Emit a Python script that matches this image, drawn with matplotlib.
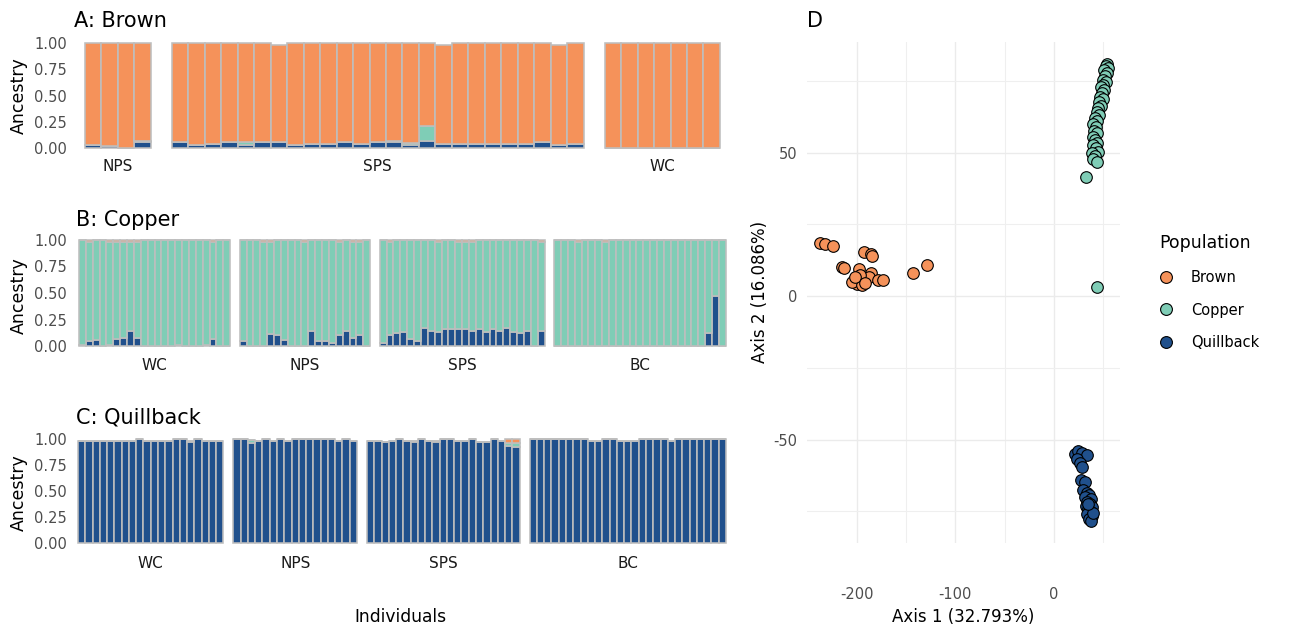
import matplotlib
matplotlib.use("Agg")
import matplotlib.pyplot as plt
from matplotlib.lines import Line2D
import numpy as np

plt.rcParams["axes.unicode_minus"] = False

# ---- admixture proportions (K = 3), one value per individual ----
# A: Brown
a_groups = ["NPS", "SPS", "WC"]
a_sizes = [4, 25, 7]
a_quill = [0.03, 0.015, 0.0, 0.055,
           0.055, 0.03, 0.04, 0.055, 0.025, 0.055, 0.055, 0.03, 0.04, 0.04,
           0.055, 0.04, 0.055, 0.055, 0.03, 0.07, 0.04, 0.04, 0.04, 0.04,
           0.04, 0.04, 0.055, 0.03, 0.04,
           0, 0, 0, 0, 0, 0, 0]
a_copper = [0, 0, 0, 0.015,
            0, 0, 0, 0, 0.03, 0, 0, 0, 0, 0, 0, 0, 0, 0.015, 0.015, 0.135,
            0, 0, 0, 0, 0, 0, 0, 0, 0,
            0, 0, 0, 0, 0, 0, 0]
a_brown = [0.97, 0.985, 1.0, 0.93,
           0.945, 0.97, 0.96, 0.945, 0.945, 0.945, 0.93, 0.97, 0.96, 0.96,
           0.945, 0.96, 0.945, 0.93, 0.955, 0.795, 0.945, 0.96, 0.96, 0.96,
           0.96, 0.96, 0.945, 0.955, 0.96,
           1, 1, 1, 1, 1, 1, 1]

# B: Copper
b_groups = ["WC", "NPS", "SPS", "BC"]
b_sizes = [22, 19, 24, 25]
b_quill = [0.01, 0.045, 0.057, 0, 0.01, 0.07, 0.08, 0.145, 0.08, 0, 0,
           0, 0, 0, 0.01, 0, 0, 0, 0.01, 0.07, 0, 0,
           0.045, 0, 0, 0, 0.11, 0.10, 0.057, 0, 0, 0, 0.145, 0.045, 0.045,
           0.03, 0.10, 0.145, 0.08, 0.10, 0,
           0.03, 0.10, 0.12, 0.13, 0.07, 0.045, 0.17, 0.145, 0.13, 0.16,
           0.16, 0.16, 0.16, 0.145, 0.16, 0.13, 0.16, 0.145, 0.17, 0.13,
           0.12, 0.145, 0, 0.145,
           0, 0, 0, 0, 0, 0, 0, 0, 0, 0, 0, 0, 0, 0, 0, 0, 0, 0, 0, 0,
           0, 0, 0.12, 0.47, 0]
b_brown = [0, 0.015, 0, 0, 0.015, 0.02, 0.02, 0.02, 0.02, 0, 0,
           0, 0, 0, 0, 0, 0, 0, 0, 0.02, 0, 0,
           0, 0, 0, 0.015, 0.02, 0, 0, 0, 0, 0.015, 0, 0, 0,
           0, 0.02, 0, 0.02, 0.02, 0,
           0, 0.02, 0, 0, 0, 0, 0, 0, 0.02, 0,
           0, 0.02, 0.015, 0.02, 0, 0, 0, 0, 0, 0,
           0, 0, 0, 0.02,
           0, 0, 0, 0.015, 0, 0, 0, 0.015, 0, 0, 0, 0, 0, 0, 0, 0, 0, 0,
           0, 0, 0, 0, 0, 0, 0]

# C: Quillback
c_groups = ["WC", "NPS", "SPS", "BC"]
c_sizes = [20, 17, 21, 27]
c_quill = [0.985, 0.985, 0.985, 0.985, 0.985, 0.985, 0.985, 0.985, 1.0,
           0.985, 0.985, 0.985, 0.985, 1.0, 1.0, 0.97, 1.0, 0.985, 0.985,
           0.985,
           1.0, 1.0, 0.96, 0.985, 1.0, 0.985, 1.0, 0.985, 1.0, 1.0, 1.0,
           1.0, 1.0, 1.0, 0.985, 1.0, 0.985,
           0.985, 0.985, 0.97, 0.985, 1.0, 0.985, 0.97, 1.0, 0.985, 0.97,
           1.0, 1.0, 0.985, 0.985, 1.0, 0.97, 0.97, 1.0, 0.985, 0.93, 0.92,
           1.0, 1.0, 1.0, 1.0, 1.0, 1.0, 1.0, 1.0, 0.985, 0.985, 1.0, 1.0,
           0.985, 0.985, 0.985, 1.0, 1.0, 1.0, 1.0, 0.985, 1.0, 1.0, 1.0,
           1.0, 1.0, 1.0, 1.0]
c_copper = [0, 0, 0, 0, 0, 0, 0, 0, 0, 0, 0, 0, 0, 0, 0, 0.015, 0, 0, 0, 0,
            0, 0, 0.03, 0, 0, 0, 0, 0, 0, 0, 0, 0, 0, 0, 0, 0, 0,
            0, 0, 0, 0, 0, 0, 0.015, 0, 0, 0.015, 0, 0, 0, 0, 0, 0, 0, 0,
            0, 0.03, 0.04,
            0, 0, 0, 0, 0, 0, 0, 0, 0, 0, 0, 0, 0, 0, 0, 0, 0, 0, 0, 0, 0,
            0, 0, 0, 0, 0, 0]
c_brown = [0, 0, 0, 0, 0, 0, 0, 0, 0, 0, 0, 0, 0, 0, 0, 0, 0, 0, 0, 0,
           0, 0, 0, 0, 0, 0, 0, 0, 0, 0, 0, 0, 0, 0, 0, 0, 0,
           0, 0, 0, 0, 0, 0, 0, 0, 0, 0, 0, 0, 0, 0, 0, 0, 0, 0,
           0, 0.04, 0.04,
           0, 0, 0, 0, 0, 0, 0, 0, 0, 0, 0, 0, 0, 0, 0, 0, 0, 0, 0, 0, 0,
           0, 0, 0, 0, 0, 0]

# ---- PCA scores (D) ----
brown_x = [-237, -232, -224, -193, -186, -185, -215, -212.5, -198, -203,
           -200, -193, -186, -188, -178, -173, -143, -129, -205, -195,
           -196.5, -201.6, -191.5]
brown_y = [18.5, 18, 17.4, 15.2, 14.6, 14.1, 10, 9.8, 9.3, 5.6, 4.2, 6.1,
           7.9, 6.7, 5.6, 5.6, 7.9, 10.8, 5, 3.8, 7.3, 6.7, 4.4]
copper_x = [54.1, 52.8, 55.2, 50.8, 53.5, 51.8, 50.1, 52.8, 49.4, 47.4,
            50.8, 48.4, 46.7, 49.4, 46, 47.4, 45, 43.3, 46, 41.6, 44, 39.9,
            42.6, 40.6, 43.3, 39.3, 41.6, 44, 39.9, 42.6, 45, 38.3, 41.6,
            39.9, 43.3, 32.5, 43.3]
copper_y = [80.8, 80.1, 79.3, 78.7, 77.8, 76.7, 75.3, 74.7, 73.5, 72.7,
            71.8, 70.6, 69.4, 68.5, 67.7, 66.2, 65.4, 64.2, 63.1, 61.9,
            61.1, 59.9, 59, 57.6, 56.7, 55.5, 54.4, 53.4, 52.6, 51.5, 50.3,
            49.7, 48.8, 47.6, 46.8, 41.6, 3.2]
quill_x = [21.3, 24.7, 28.1, 33.9, 23.7, 26.4, 28.1, 27.1, 31.5, 29.8, 33.2,
           35.8, 31.5, 37.2, 33.9, 36.5, 32.5, 38.2, 34.8, 37.2, 33.9, 38.2,
           35.8, 37.2, 39.3, 34.8]
quill_y = [-55.1, -53.9, -54.6, -55.5, -56.6, -58.3, -59.5, -64.1, -64.7,
           -67.6, -68.5, -69.3, -69.9, -70.8, -71.7, -72.5, -73.2, -73.6,
           -74.3, -75.1, -76, -76.7, -77.5, -78.3, -75.7, -72.3]

pop_names = ["Brown", "Copper", "Quillback"]
col_brown = "#F5925A"
col_copper = "#7FCDB6"
col_quill = "#20508C"
edge_gray = "#BEBEBE"
txt_gray = "#4D4D4D"

W, H = 1293, 630
fig = plt.figure(figsize=(W / 100, H / 100), dpi=100)


def rect(x0, y0, x1, y1):
    return [x0 / W, 1 - y1 / H, (x1 - x0) / W, (y1 - y0) / H]


def structure_row(groups, sizes, quill, copper, brown, x_start, bar_w, gap,
                  y_top, y_bot, ypad, lab_base):
    quill = np.asarray(quill, float)
    copper = np.asarray(copper, float)
    brown = np.asarray(brown, float)
    x0 = x_start
    i0 = 0
    for k, (name, n) in enumerate(zip(groups, sizes)):
        x1 = x0 + n * bar_w
        ax = fig.add_axes(rect(x0, y_top, x1, y_bot))
        idx = np.arange(n)
        q = quill[i0:i0 + n]
        c = copper[i0:i0 + n]
        b = brown[i0:i0 + n]
        kw = dict(width=1.0, edgecolor=edge_gray, linewidth=1.15, clip_on=False)
        ax.bar(idx, q, color=col_quill, **kw)
        ax.bar(idx, c, bottom=q, color=col_copper, **kw)
        ax.bar(idx, b, bottom=q + c, color=col_brown, **kw)
        ax.set_xlim(-0.5, n - 0.5)
        ax.set_ylim(0, 1)
        for s in ax.spines.values():
            s.set_visible(False)
        ax.set_xticks([])
        if k == 0:
            ax.set_yticks([0, 0.25, 0.5, 0.75, 1.0])
            ax.set_yticklabels(["0.00", "0.25", "0.50", "0.75", "1.00"])
            ax.tick_params(axis="y", length=0, pad=ypad, labelsize=10.5,
                           labelcolor=txt_gray)
        else:
            ax.set_yticks([])
        fig.text((x0 + x1) / 2 / W, 1 - lab_base / H, name, ha="center",
                 va="baseline", fontsize=11, color="#1A1A1A")
        i0 += n
        x0 = x1 + gap


structure_row(a_groups, a_sizes, a_quill, a_copper, a_brown,
              85, 16.47, 21, 43, 148, 13, 171.5)
b_copper = 1 - np.asarray(b_quill) - np.asarray(b_brown)
structure_row(b_groups, b_sizes, b_quill, b_copper, b_brown,
              79, 6.87, 9.5, 240, 346, 8.6, 369.5)
structure_row(c_groups, c_sizes, c_quill, c_copper, c_brown,
              78, 7.27, 10, 439, 543, 8, 567.5)

# panel titles and shared labels
for txt, x, yb in [("A: Brown", 74, 27), ("B: Copper", 76, 226),
                   ("C: Quillback", 76, 424), ("D", 807, 27)]:
    fig.text(x / W, 1 - yb / H, txt, fontsize=15, va="baseline", ha="left")
for yc in [96, 296, 493]:
    fig.text(18.5 / W, 1 - yc / H, "Ancestry", rotation=90, ha="center",
             va="center", fontsize=12.5)
fig.text(400 / W, 1 - 617 / H, "Individuals", ha="center", va="center",
         fontsize=12.3)

# ---- D: PCA ----
axd = fig.add_axes(rect(807, 42, 1120, 543))
pts = dict(s=70, edgecolors="black", linewidths=0.8, zorder=3)
axd.scatter(brown_x, brown_y, c=col_brown, **pts)
axd.scatter(copper_x, copper_y, c=col_copper, **pts)
axd.scatter(quill_x, quill_y, c=col_quill, **pts)
axd.set_xlim(-250.5, 67)
axd.set_ylim(-86, 88.5)
axd.set_xticks([-200, -100, 0])
axd.set_xticks([-150, -50, 50], minor=True)
axd.set_yticks([-50, 0, 50])
axd.set_yticks([-75, -25, 25, 75], minor=True)
axd.grid(which="major", color="#EBEBEB", linewidth=1.0)
axd.grid(which="minor", color="#EFEFEF", linewidth=0.8)
axd.set_axisbelow(True)
for s in axd.spines.values():
    s.set_visible(False)
axd.tick_params(which="both", length=0, labelsize=10.5, labelcolor=txt_gray)
axd.tick_params(axis="x", pad=32)
axd.tick_params(axis="y", pad=7)
fig.text(963 / W, 1 - 617 / H, "Axis 1 (32.793%)", ha="center", va="center",
         fontsize=12)
fig.text(760 / W, 1 - 292 / H, "Axis 2 (16.086%)", ha="center", va="center",
         rotation=90, fontsize=12)

handles = [Line2D([], [], marker="o", linestyle="", markersize=8.5,
                  markerfacecolor=c, markeredgecolor="black",
                  markeredgewidth=0.8)
           for c in [col_brown, col_copper, col_quill]]
fig.legend(handles, pop_names, title="Population", loc="upper left",
           bbox_to_anchor=(1159 / W, 1 - 234 / H), frameon=False,
           fontsize=10.5, title_fontsize=12.5, alignment="left",
           handlelength=1.0, handletextpad=1.2, labelspacing=1.22,
           borderpad=0, borderaxespad=0)

fig.savefig("out.png", dpi=100)
